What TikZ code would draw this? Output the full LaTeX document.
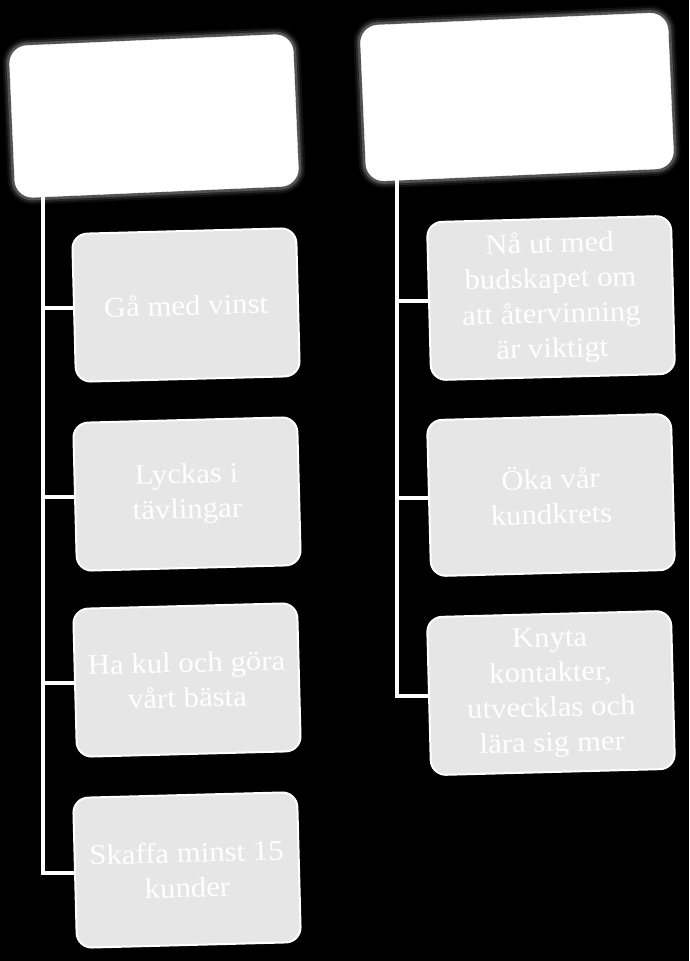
\documentclass[tikz,border=0pt]{standalone}
\usepackage{fontspec}
\setmainfont[FakeStretch=1.08]{Liberation Serif}
\usetikzlibrary{positioning}

\definecolor{boxgray}{RGB}{230,230,230}

\begin{document}
\begin{tikzpicture}[
  x=1pt, y=-1pt,
  head/.style={rectangle, fill=white, draw=white, rounded corners=18pt, rotate=2.5,
    preaction={draw=white, line width=14pt, opacity=0.06},
    preaction={draw=white, line width=10pt, opacity=0.1},
    preaction={draw=white, line width=6pt, opacity=0.2}},
  goal/.style={rectangle, fill=boxgray, draw=white, line width=2pt, rounded corners=15pt, rotate=1.5,
    align=center, text=white, font=\fontsize{28.5}{35}\selectfont},
  conn/.style={draw=white, line width=3.5pt}
]
\fill[black] (0,0) rectangle (689,961);
\useasboundingbox (0,0) rectangle (689,961);
% left column
\node[head, minimum width=284pt, minimum height=152pt] (lh) at (154,116) {};
\node[goal, minimum width=224pt, minimum height=148pt] (l1) at (186,305) {G\aa{} med vinst};
\node[goal, minimum width=224pt, minimum height=148pt] (l2) at (187,494) {Lyckas i\\t\"avlingar};
\node[goal, minimum width=224pt, minimum height=148pt] (l3) at (187,680) {Ha kul och g\"ora\\v\aa{}rt b\"asta};
\node[goal, minimum width=224pt, minimum height=150pt] (l4) at (187,870) {Skaffa minst 15\\kunder};
% right column
\node[head, minimum width=308pt, minimum height=156pt] (rh) at (517,97) {};
\node[goal, minimum width=244pt, minimum height=158pt] (r1) at (551,298) {N\aa{} ut med\\budskapet om\\att \aa{}tervinning\\\"ar viktigt};
\node[goal, minimum width=244pt, minimum height=156pt] (r2) at (551,495) {\"Oka v\aa{}r\\kundkrets};
\node[goal, minimum width=244pt, minimum height=158pt] (r3) at (551,693) {Knyta\\kontakter,\\utvecklas och\\l\"ara sig mer};
\coordinate (lt) at (43,196);
\coordinate (rt) at (397,180);
\draw[conn] (lt) |- (l1.west); \draw[conn] (lt) |- (l2.west);
\draw[conn] (lt) |- (l3.west); \draw[conn] (lt) |- (l4.west);
\draw[conn] (rt) |- (r1.west); \draw[conn] (rt) |- (r2.west); \draw[conn] (rt) |- (r3.west);
\end{tikzpicture}
\end{document}
